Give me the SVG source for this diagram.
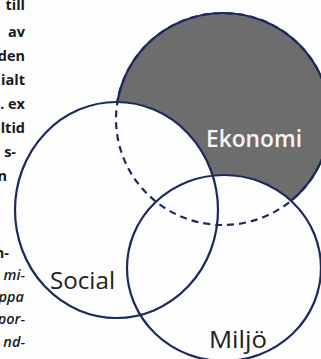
<svg xmlns="http://www.w3.org/2000/svg" width="321" height="359" viewBox="0 0 321 359">
  <style>
    .outline { fill: none; stroke: #1b2a5c; stroke-width: 2.2; }
    .dashed { fill: none; stroke: #1b2a5c; stroke-width: 2.2; stroke-dasharray: 7 5; }
    .label { font-family: "Open Sans", "Noto Sans", "DejaVu Sans", sans-serif; font-size: 24px; }
    .page { font-family: "Open Sans", "Noto Sans", "DejaVu Sans", sans-serif; font-size: 14.5px; fill: #1a1a1a; text-anchor: end; }
    .b { font-weight: 700; }
    .it { font-style: italic; font-weight: 600; }
  </style>
  <defs>
    <mask id="outsideSM" maskUnits="userSpaceOnUse" x="0" y="0" width="321" height="359">
      <rect x="0" y="0" width="321" height="359" fill="#fff"/>
      <ellipse cx="116.5" cy="210" rx="101.5" ry="108" fill="#000"/>
      <ellipse cx="224" cy="268" rx="97" ry="93" fill="#000"/>
    </mask>
  </defs>
  <rect x="0" y="0" width="321" height="359" fill="#fdfdfd"/>

  <g id="page-text">
    <text class="page b" x="25" y="10">till</text>
    <text class="page b" x="25" y="37">av</text>
    <text class="page b" x="25" y="61">den</text>
    <text class="page b" x="25" y="85">ialt</text>
    <text class="page b" x="25" y="109">. ex</text>
    <text class="page b" x="25" y="133">ltid</text>
    <text class="page b" x="16" y="157">s-</text>
    <text class="page b" x="7" y="181">n</text>
    <text class="page b" x="9" y="258">n-</text>
    <text class="page it" x="25" y="280">mi-</text>
    <text class="page it" x="24" y="302">ppa</text>
    <text class="page it" x="25" y="324">por-</text>
    <text class="page it" x="25" y="347">nd-</text>
  </g>

  <g id="ekonomi">
    <ellipse cx="223" cy="119" rx="107" ry="106" fill="#6d6d6d" mask="url(#outsideSM)"/>
    <ellipse class="outline" cx="223" cy="119" rx="107" ry="106" mask="url(#outsideSM)"/>
    <ellipse class="dashed" cx="223" cy="119" rx="107" ry="106"/>
    <text class="label" x="206" y="147" fill="#f4f4f4" font-weight="600" textLength="96" lengthAdjust="spacingAndGlyphs">Ekonomi</text>
  </g>

  <g id="social">
    <ellipse class="outline" cx="116.5" cy="210" rx="101.5" ry="108"/>
    <text class="label" x="50" y="289" fill="#222" font-weight="500" textLength="65" lengthAdjust="spacingAndGlyphs">Social</text>
  </g>

  <g id="miljo">
    <ellipse class="outline" cx="224" cy="268" rx="97" ry="93"/>
    <text class="label" x="209" y="348" fill="#222" font-weight="500" textLength="58" lengthAdjust="spacingAndGlyphs">Miljö</text>
  </g>
</svg>
